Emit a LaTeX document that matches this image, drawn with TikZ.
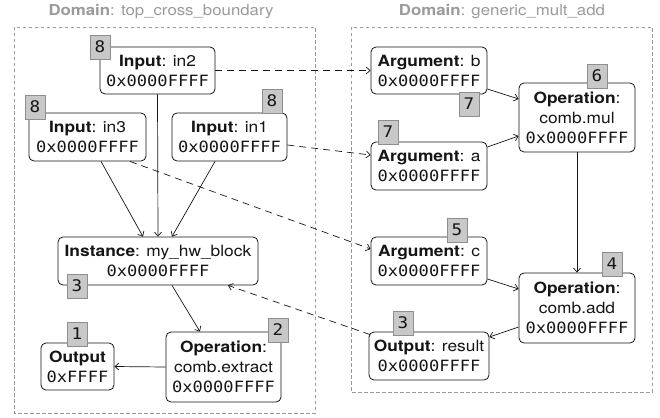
\documentclass[tikz,border=0pt]{standalone}
\usepackage{fontspec}
\setmainfont{TeX Gyre Heros}[FakeStretch=1.12]
\setmonofont{DejaVu Sans Mono}[FakeStretch=1.1]
\usetikzlibrary{arrows.meta,calc}
\definecolor{domgray}{HTML}{9A9A9A}
\definecolor{tagfill}{HTML}{C8C8C8}
\definecolor{tagedge}{HTML}{8E8E8E}
\definecolor{ink}{HTML}{151515}

\begin{document}
\begin{tikzpicture}[x=1pt,y=-1pt,
  every node/.style={font=\fontsize{15.5}{20}\selectfont, text=ink},
  item/.style={draw=ink, line width=0.8pt, rounded corners=5pt, fill=white,
    align=center, inner sep=0pt},
  tag/.style={draw=tagedge, fill=tagfill, line width=0.9pt, minimum width=20pt,
    minimum height=24pt, inner sep=0pt, font=\ttfamily\fontsize{16}{16}\selectfont},
  domframe/.style={draw=domgray, dash pattern=on 3.5pt off 2.5pt, line width=0.9pt},
  domtitle/.style={text=domgray, font=\fontsize{15}{18}\selectfont},
  flow/.style={draw=ink, line width=0.7pt, -{Straight Barb[length=4pt,width=7pt]}},
  link/.style={flow, dash pattern=on 7pt off 5pt}
]
\useasboundingbox (0,0) rectangle (660,417);

% domain frames and their titles
\draw[domframe] (14,27) rectangle (315,413);
\draw[domframe] (351,27) rectangle (652,392);
\node[domtitle] (dtop) at (161,12) {\textbf{Domain}: top\_cross\_boundary};
\node[domtitle] (dgen) at (502,12) {\textbf{Domain}: generic\_mult\_add};

% top_cross_boundary
\node[item, minimum width=115pt, minimum height=47pt] (in2) at (157.5,70.5)
  {\textbf{Input}: in2\\{\ttfamily 0x0000FFFF}};
\node[item, minimum width=117pt, minimum height=48pt] (in3) at (87.5,137)
  {\textbf{Input}: in3\\{\ttfamily 0x0000FFFF}};
\node[item, minimum width=115pt, minimum height=48pt] (in1) at (229.5,137)
  {\textbf{Input}: in1\\{\ttfamily 0x0000FFFF}};
\node[item, minimum width=200pt, minimum height=48pt] (inst) at (158,261)
  {\textbf{Instance}: my\_hw\_block\\{\ttfamily 0x0000FFFF}};
\node[item, minimum width=115pt, minimum height=70pt] (extract) at (223.5,367)
  {\textbf{Operation}:\\comb.extract\\{\ttfamily 0x0000FFFF}};
\node[item, minimum width=73pt, minimum height=47pt] (outL) at (77.5,366.5)
  {\textbf{Output}\\{\ttfamily 0xFFFF}};

% generic_mult_add
\node[item, minimum width=116pt, minimum height=47pt] (argb) at (429,70.5)
  {\textbf{Argument}: b\\{\ttfamily 0x0000FFFF}};
\node[item, minimum width=116pt, minimum height=69pt] (mul) at (577,117.5)
  {\textbf{Operation}:\\comb.mul\\{\ttfamily 0x0000FFFF}};
\node[item, minimum width=116pt, minimum height=48pt] (arga) at (429,166)
  {\textbf{Argument}: a\\{\ttfamily 0x0000FFFF}};
\node[item, minimum width=116pt, minimum height=48pt] (argc) at (429,261)
  {\textbf{Argument}: c\\{\ttfamily 0x0000FFFF}};
\node[item, minimum width=116pt, minimum height=70pt] (add) at (577,308)
  {\textbf{Operation}:\\comb.add\\{\ttfamily 0x0000FFFF}};
\node[item, minimum width=120pt, minimum height=48pt] (result) at (429,356)
  {\textbf{Output}: result\\{\ttfamily 0x0000FFFF}};

% order tags
\node[tag] (t-in2) at (100,47) {8};
\node[tag] (t-in3) at (35,107) {8};
\node[tag] (t-in1) at (272,101) {8};
\node[tag] (t-inst) at (77,286) {3};
\node[tag] (t-extract) at (278,330) {2};
\node[tag] (t-outL) at (77,334) {1};
\node[tag] (t-argb) at (469,104) {7};
\node[tag] (t-mul) at (597,76) {6};
\node[tag] (t-arga) at (388,132) {7};
\node[tag] (t-argc) at (457,230) {5};
\node[tag] (t-add) at (612,264) {4};
\node[tag] (t-result) at (403,323) {3};

% data flow inside the domains
\draw[flow] (in2.south) -- (inst.north);
\draw[flow] ([xshift=13.5pt]in3.south) -- ([xshift=-15pt]inst.north);
\draw[flow] ([xshift=-14.5pt]in1.south) -- ([xshift=14pt]inst.north);
\draw[flow] ([xshift=14pt]inst.south) -- ([xshift=-23.5pt]extract.north);
\draw[flow] (extract.west) -- (outL.east);
\draw[flow] ([yshift=-18.5pt]argb.east) -- ([yshift=18.5pt]mul.west);
\draw[flow] ([yshift=19pt]arga.east) -- ([yshift=-18.5pt]mul.west);
\draw[flow] (mul.south) -- (add.north);
\draw[flow] ([yshift=-18pt]argc.east) -- ([yshift=19pt]add.west);
\draw[flow] ([yshift=-19pt]add.west) -- ([yshift=19pt]result.east);

% bindings across the domain boundary
\draw[link] (in2.east) -- (argb.west);
\draw[link] ([yshift=-8pt]in1.east) -- ([yshift=11pt]arga.west);
\draw[link] ([xshift=42.5pt]in3.south) -- ([yshift=12pt]argc.west);
\draw[link] ([xshift=1.5pt,yshift=-3pt]result.north west) -- ([xshift=70pt]inst.south);
\end{tikzpicture}
\end{document}
